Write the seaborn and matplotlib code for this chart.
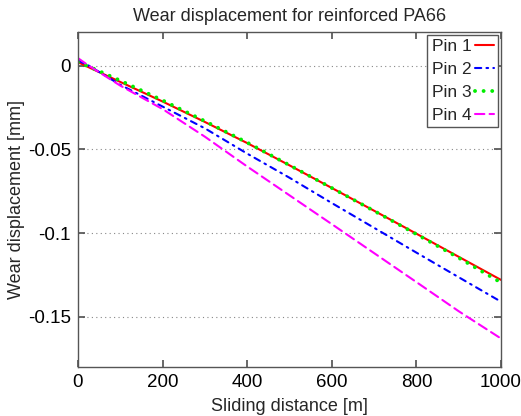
import numpy as np
import pandas as pd
import matplotlib
matplotlib.use("Agg")
import matplotlib.pyplot as plt
import seaborn as sns

# sliding distance [m]
distance = [0, 25, 100, 200, 300, 400, 500, 600, 700, 800, 900, 1000]

# wear displacement [mm]
pin1 = [0.002, -0.001, -0.0098, -0.0215, -0.0337, -0.0463, -0.0596, -0.0731, -0.0867, -0.1004, -0.1142, -0.128]
pin2 = [0.003, 0.0, -0.0115, -0.0245, -0.0375, -0.0526, -0.067, -0.0821, -0.0969, -0.1117, -0.1264, -0.141]
pin3 = [0.002, -0.0005, -0.009, -0.0208, -0.0332, -0.046, -0.0595, -0.0731, -0.0868, -0.1007, -0.1148, -0.1296]
pin4 = [0.0044, 0.0, -0.012, -0.026, -0.0425, -0.0603, -0.0775, -0.0947, -0.112, -0.1293, -0.1467, -0.163]

labels = ["Pin 1", "Pin 2", "Pin 3", "Pin 4"]
colors = ["#ff0000", "#0000ff", "#00ee00", "#ff00ff"]
styles = ["-", (0, (3, 2.5, 0.8, 2.5)), (0, (0.01, 2.2)), (0, (4.5, 2.5))]
widths = [1.5, 1.5, 2.8, 1.5]

sns.set_theme(style="ticks")
plt.rcParams['font.family'] = ['Liberation Sans', 'DejaVu Sans']

dt = pd.DataFrame({"distance": distance, "Pin 1": pin1, "Pin 2": pin2,
                   "Pin 3": pin3, "Pin 4": pin4})

fig = plt.figure(figsize=(5.21, 4.16), dpi=100)
ax = fig.add_axes([0.1497, 0.1178, 0.8119, 0.8052])

for lab, c, ls, lw in zip(labels, colors, styles, widths):
    sns.lineplot(x="distance", y=lab, data=dt, ax=ax, color=c, linestyle=ls,
                 linewidth=lw, label=lab)
for line in ax.get_lines():
    line.set_dash_capstyle("round")

ax.set_xlim(0, 1000)
ax.set_ylim(-0.18, 0.02)
ax.set_xticks([0, 200, 400, 600, 800, 1000])
ax.set_yticks([0, -0.05, -0.1, -0.15])
ax.set_yticklabels(["0", "-0.05", "-0.1", "-0.15"])
ax.yaxis.grid(True, linestyle=(0, (1, 3)), color="#888888", linewidth=0.8)
ax.tick_params(direction="in", top=True, right=True, length=5, color="#555555",
               labelsize=13.5, labelcolor="black", pad=5)
for s in ax.spines.values():
    s.set_color("#555555")
    s.set_linewidth(1.0)

ax.set_title("Wear displacement for reinforced PA66", fontsize=13, pad=8)
ax.set_xlabel("Sliding distance [m]", fontsize=13, labelpad=5)
ax.set_ylabel("Wear displacement [mm]", fontsize=13, labelpad=2)

leg = ax.legend(loc="upper right", markerfirst=False, fontsize=12.5,
                handlelength=1.1, handletextpad=0.2, labelspacing=0.45,
                borderaxespad=0.15, borderpad=0.25, fancybox=False, framealpha=1)
leg.get_frame().set_edgecolor("#555555")
leg.get_frame().set_linewidth(1.0)

plt.savefig("out.png", dpi=100)
